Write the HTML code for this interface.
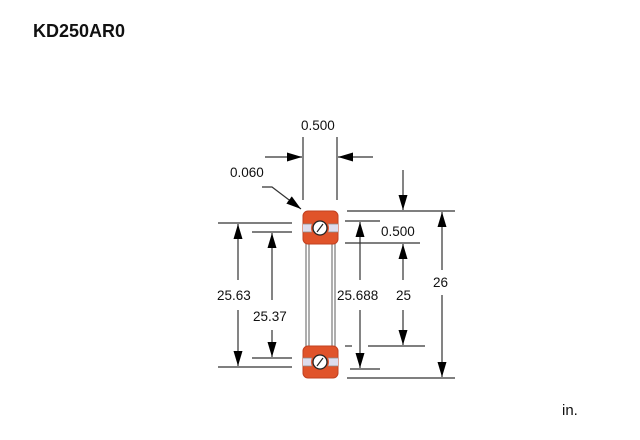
<!DOCTYPE html>
<html><head><style>
body{margin:0;background:#fff;width:640px;height:440px;overflow:hidden}
svg{display:block}
text{font-family:"Liberation Sans",Arial,sans-serif;font-size:13.5px;fill:#111}
</style></head><body>
<svg width="640" height="440" viewBox="0 0 640 440">
<defs>
<marker id="a" viewBox="0 0 10 10" refX="10" refY="5" markerWidth="15" markerHeight="9" markerUnits="userSpaceOnUse" orient="auto" preserveAspectRatio="none"><path d="M0,0 L10,5 L0,10z" fill="#000"/></marker>
</defs>
<text x="33" y="37" style="font-size:18px;font-weight:bold">KD250AR0</text>
<text x="562" y="415" style="font-size:15px">in.</text>
<g stroke="#333" stroke-width="1.2" fill="none">
<line x1="303" y1="137" x2="303" y2="200"/>
<line x1="337" y1="137" x2="337" y2="200"/>
<line x1="265" y1="157" x2="302" y2="157" marker-end="url(#a)"/>
<line x1="373" y1="157" x2="338" y2="157" marker-end="url(#a)"/>
<path d="M262,187 L272,187 L301,209" marker-end="url(#a)"/>
<line x1="306" y1="244" x2="306" y2="346" stroke="#777"/>
<line x1="309" y1="244" x2="309" y2="346" stroke="#777"/>
<line x1="332" y1="244" x2="332" y2="346" stroke="#777"/>
<line x1="335" y1="244" x2="335" y2="346" stroke="#777"/>
<line x1="218" y1="223" x2="292" y2="223"/>
<line x1="218" y1="367" x2="292" y2="367"/>
<line x1="238" y1="280" x2="238" y2="224" marker-end="url(#a)"/>
<line x1="238" y1="310" x2="238" y2="366" marker-end="url(#a)"/>
<line x1="252" y1="232" x2="292" y2="232"/>
<line x1="252" y1="358" x2="292" y2="358"/>
<line x1="272" y1="300" x2="272" y2="233" marker-end="url(#a)"/>
<line x1="272" y1="330" x2="272" y2="357" marker-end="url(#a)"/>
<line x1="345" y1="221" x2="380" y2="221"/>
<line x1="350" y1="369" x2="380" y2="369"/>
<line x1="360" y1="280" x2="360" y2="222" marker-end="url(#a)"/>
<line x1="360" y1="310" x2="360" y2="368" marker-end="url(#a)"/>
<line x1="347" y1="211" x2="455" y2="211"/>
<line x1="345" y1="243" x2="420" y2="243"/>
<line x1="345" y1="346" x2="352" y2="346"/>
<line x1="368" y1="346" x2="425" y2="346"/>
<line x1="403" y1="170" x2="403" y2="210" marker-end="url(#a)"/>
<line x1="403" y1="280" x2="403" y2="244" marker-end="url(#a)"/>
<line x1="403" y1="310" x2="403" y2="345" marker-end="url(#a)"/>
<line x1="347" y1="378" x2="455" y2="378"/>
<line x1="442" y1="270" x2="442" y2="212" marker-end="url(#a)"/>
<line x1="442" y1="295" x2="442" y2="377" marker-end="url(#a)"/>
</g>
<g>
<rect x="303" y="211" width="35" height="33" rx="5" fill="#e0532a" stroke="#c04020"/>
<rect x="303" y="224" width="35" height="8" fill="#dde"/>
<line x1="303" y1="224" x2="338" y2="224" stroke="#888" stroke-width="0.8"/>
<line x1="303" y1="232" x2="338" y2="232" stroke="#888" stroke-width="0.8"/>
<circle cx="320" cy="228" r="9" fill="#e0532a"/>
<circle cx="320" cy="228" r="7" fill="#fff" stroke="#222" stroke-width="1.3"/>
<line x1="317" y1="232" x2="323" y2="224" stroke="#222" stroke-width="1.2"/>
<rect x="303" y="346" width="35" height="32" rx="5" fill="#e0532a" stroke="#c04020"/>
<rect x="303" y="358" width="35" height="8" fill="#dde"/>
<line x1="303" y1="358" x2="338" y2="358" stroke="#888" stroke-width="0.8"/>
<line x1="303" y1="366" x2="338" y2="366" stroke="#888" stroke-width="0.8"/>
<circle cx="320" cy="362" r="9" fill="#e0532a"/>
<circle cx="320" cy="362" r="7" fill="#fff" stroke="#222" stroke-width="1.3"/>
<line x1="317" y1="366" x2="323" y2="358" stroke="#222" stroke-width="1.2"/>
</g>
<text x="301" y="130">0.500</text>
<text x="230" y="177">0.060</text>
<text x="381" y="236">0.500</text>
<text x="217" y="300">25.63</text>
<text x="253" y="321">25.37</text>
<text x="337" y="300">25.688</text>
<text x="396" y="300">25</text>
<text x="433" y="287">26</text>
</svg>
</body></html>
